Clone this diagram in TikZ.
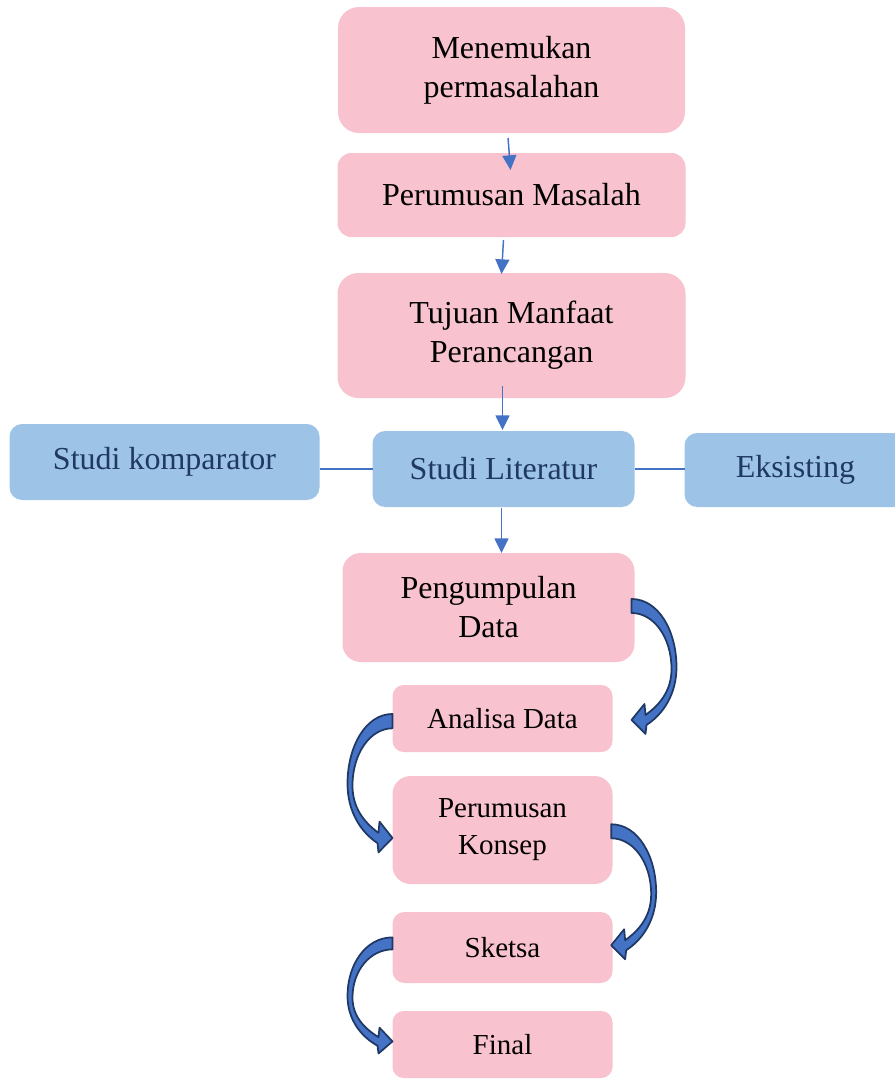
\documentclass[tikz,border=0pt]{standalone}
\usepackage{fontspec}
\setmainfont{Liberation Serif}
\usetikzlibrary{arrows.meta,positioning}
\definecolor{boxpink}{HTML}{F9C2CF}
\definecolor{boxblue}{HTML}{9DC3E6}
\definecolor{textnavy}{HTML}{1F3864}
\definecolor{linkblue}{HTML}{4472C4}
\tikzstyle{every node}=[outer sep=0pt,inner sep=2pt,align=center]
\tikzstyle{bigfont}=[font=\fontsize{24}{29.25}\selectfont]
\tikzstyle{smallfont}=[font=\fontsize{21.75}{27.75}\selectfont]
\tikzset{
  pinkbox/.style={fill=boxpink,text=black,rounded corners=#1},
  pinkbox/.default=13pt,
  bluebox/.style={fill=boxblue,text=textnavy,rounded corners=9.5pt,bigfont},
  arr/.style={draw=linkblue,line width=1.1pt,-{Triangle[length=11pt,width=10.5pt]}},
  link/.style={draw=linkblue,line width=1pt},
  bendarrow/.pic={
    \filldraw[fill=linkblue,draw=textnavy,line width=1.3pt,line join=round]
      (0,0) .. controls (27,0) and (45,32) .. (45,68)
      .. controls (45,95) and (32,115) .. (15,126)
      -- (14,135) -- (0,121) -- (13,105) -- (14,116)
      .. controls (28,106) and (40,92) .. (40,70)
      .. controls (40,38) and (22,14) .. (0,14) -- cycle;
  }
}

\begin{document}
\begin{tikzpicture}[x=0.75pt,y=-0.75pt]
  \useasboundingbox (0,0) rectangle (894,1079);
  % main chain
  \node[pinkbox=15.75pt,bigfont,minimum width=260.25pt,minimum height=94.5pt] (m1) at (511.5,70) {Menemukan\\permasalahan};
  \node[pinkbox=10.5pt,bigfont,minimum width=261pt,minimum height=63pt] (m2) [below=15pt of m1] {Perumusan Masalah};
  \node[pinkbox=15.6pt,bigfont,minimum width=261pt,minimum height=93.75pt] (m3) [below=27pt of m2] {Tujuan Manfaat\\Perancangan};
  \node[bluebox,minimum width=196.5pt,minimum height=57pt] (sl) [below=24.75pt of m3,xshift=-6pt] {Studi Literatur};
  \node[bluebox,minimum width=232.5pt,minimum height=57pt] (komp) [left=39.75pt of sl,yshift=5.25pt] {Studi komparator};
  \node[bluebox,minimum width=166.5pt,minimum height=55.5pt] (eks) [right=37.5pt of sl,yshift=-0.75pt] {Eksisting};
  \node[pinkbox=13.6pt,bigfont,minimum width=219pt,minimum height=81.75pt] (pg) [below=34.5pt of sl,xshift=-11.25pt] {Pengumpulan\\Data};
  \node[pinkbox=8.4pt,smallfont,minimum width=165pt,minimum height=50.25pt] (an) [below=17.25pt of pg,xshift=10.5pt] {Analisa Data};
  \node[pinkbox=13.5pt,smallfont,minimum width=165pt,minimum height=81pt] (pk) [below=18pt of an] {Perumusan\\Konsep};
  \node[pinkbox=8.9pt,smallfont,minimum width=165pt,minimum height=53.25pt] (sketsa) [below=21pt of pk] {Sketsa};
  \node[pinkbox=8.4pt,smallfont,minimum width=165pt,minimum height=50.25pt] (fin) [below=21pt of sketsa] {Final};

  % straight arrows and links
  \draw[arr] ([xshift=-2.6pt,yshift=-3.75pt]m1.south) -- ([xshift=-0.75pt,yshift=-12.75pt]m2.north);
  \draw[arr] ([xshift=-6pt,yshift=-2.25pt]m2.south) -- ([xshift=-7.5pt,yshift=-0.75pt]m3.north);
  \draw[arr] ([xshift=-6.75pt,yshift=9pt]m3.south) -- ([xshift=-0.75pt,yshift=0.75pt]sl.north);
  \draw[arr] ([xshift=-1.5pt,yshift=-0.75pt]sl.south) -- ([xshift=9.75pt]pg.north);
  \draw[link] (sl.west) -- (sl.west -| komp.east);
  \draw[link] (sl.east) -- (sl.east -| eks.west);

  % curved block arrows
  \pic at ([xshift=-2.25pt,yshift=6.4pt]pg.east) {bendarrow};
  \pic[xscale=-1,yscale=1.025] at ([yshift=3.4pt]an.west) {bendarrow};
  \pic at ([xshift=-1pt,yshift=4.3pt]pk.east) {bendarrow};
  \pic[xscale=-1,yscale=0.86] at ([yshift=7.6pt]sketsa.west) {bendarrow};
\end{tikzpicture}
\end{document}
